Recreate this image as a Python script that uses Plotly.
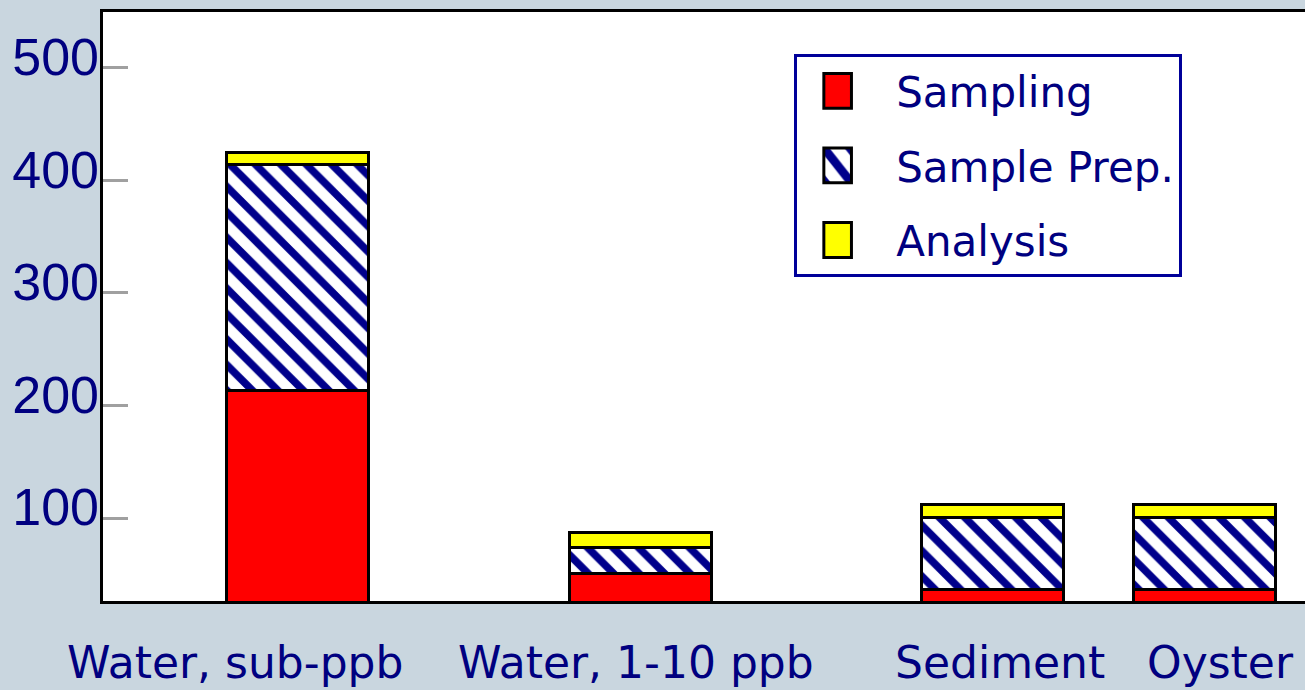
import plotly.graph_objects as go

categories = ["Water, sub-ppb", "Water, 1-10 ppb", "Sediment", "Oyster"]
sampling = [213, 51, 37, 37]
sample_prep = [201, 23, 64, 64]
analysis = [11, 13, 11, 11]
y_ticks = [100, 200, 300, 400, 500]

bar_pos = [1.0, 2.0, 3.026, 3.643]
label_pos = [0.818, 1.987, 3.048, 3.69]

NAVY = "#000080"
FONT = "DejaVu Sans"
BG = "#c9d6df"
YRANGE = [26.4, 549.5]

fig = go.Figure()
line = dict(color="black", width=3)
fig.add_trace(go.Bar(x=bar_pos, y=sampling, name="Sampling", width=0.414,
                     marker=dict(color="#ff0000", line=line), legendgroup="a"))
fig.add_trace(go.Bar(x=bar_pos, y=sample_prep, name="Sample Prep.", width=0.414,
                     marker=dict(color="white", line=line,
                                 pattern=dict(shape="\\", fgcolor="#00008b", bgcolor="white",
                                              fgopacity=1, size=18, solidity=0.42,
                                              fillmode="overlay")),
                     legendgroup="b"))
fig.add_trace(go.Bar(x=bar_pos, y=analysis, name="Analysis", width=0.414,
                     marker=dict(color="#ffff00", line=line), legendgroup="c"))

for lab, xp in zip(categories, label_pos):
    fig.add_annotation(x=xp, y=0, xref="x", yref="paper", text=lab, showarrow=False,
                       yanchor="top", yshift=-34, font=dict(family=FONT, size=44, color=NAVY))

fig.update_layout(
    barmode="stack",
    width=1305, height=690,
    margin=dict(l=103, r=0, t=12, b=89),
    paper_bgcolor=BG,
    plot_bgcolor="white",
    showlegend=True,
    legend=dict(x=0.575, y=0.9287, xanchor="left", yanchor="top",
                bgcolor="white", bordercolor="#000099", borderwidth=3,
                font=dict(family=FONT, size=42, color=NAVY),
                traceorder="grouped", tracegroupgap=17, itemwidth=89,
                entrywidth=332, entrywidthmode="pixels"),
    xaxis=dict(range=[0.433, 3.937], showticklabels=False, ticks="", showgrid=False,
               zeroline=False, showline=True, linecolor="black", linewidth=3, mirror=True),
    yaxis=dict(range=YRANGE, tickvals=y_ticks, showgrid=False, showticklabels=False,
               zeroline=False, showline=True, linecolor="black", linewidth=3,
               ticks="inside", ticklen=25, tickwidth=3, tickcolor="#a0a0a0"),
    yaxis2=dict(range=YRANGE, tickvals=y_ticks, overlaying="y", anchor="free", position=0,
                side="left", showgrid=False, zeroline=False, showline=False, ticks="",
                ticklabelshift=-11, ticklabelstandoff=4,
                tickfont=dict(family="Liberation Sans", size=52, color=NAVY)),
)
# invisible helper so the label axis is drawn
fig.add_trace(go.Scatter(x=[bar_pos[0]], y=[y_ticks[0]], yaxis="y2", mode="markers",
                         marker=dict(opacity=0), showlegend=False, hoverinfo="skip"))

post = """
var gd = document.getElementById('{plot_id}');
document.body.style.margin='0';
document.body.style.background='%s';
gd.querySelectorAll('g.legendpoints path').forEach(function(p){
  var t = p.getAttribute('transform') || '';
  p.setAttribute('transform', t + ' translate(-9,0) scale(2.3,2.9)');
  p.style.vectorEffect='non-scaling-stroke';
});
""" % BG

fig.write_html("out.html", config={"displayModeBar": False}, post_script=post)
